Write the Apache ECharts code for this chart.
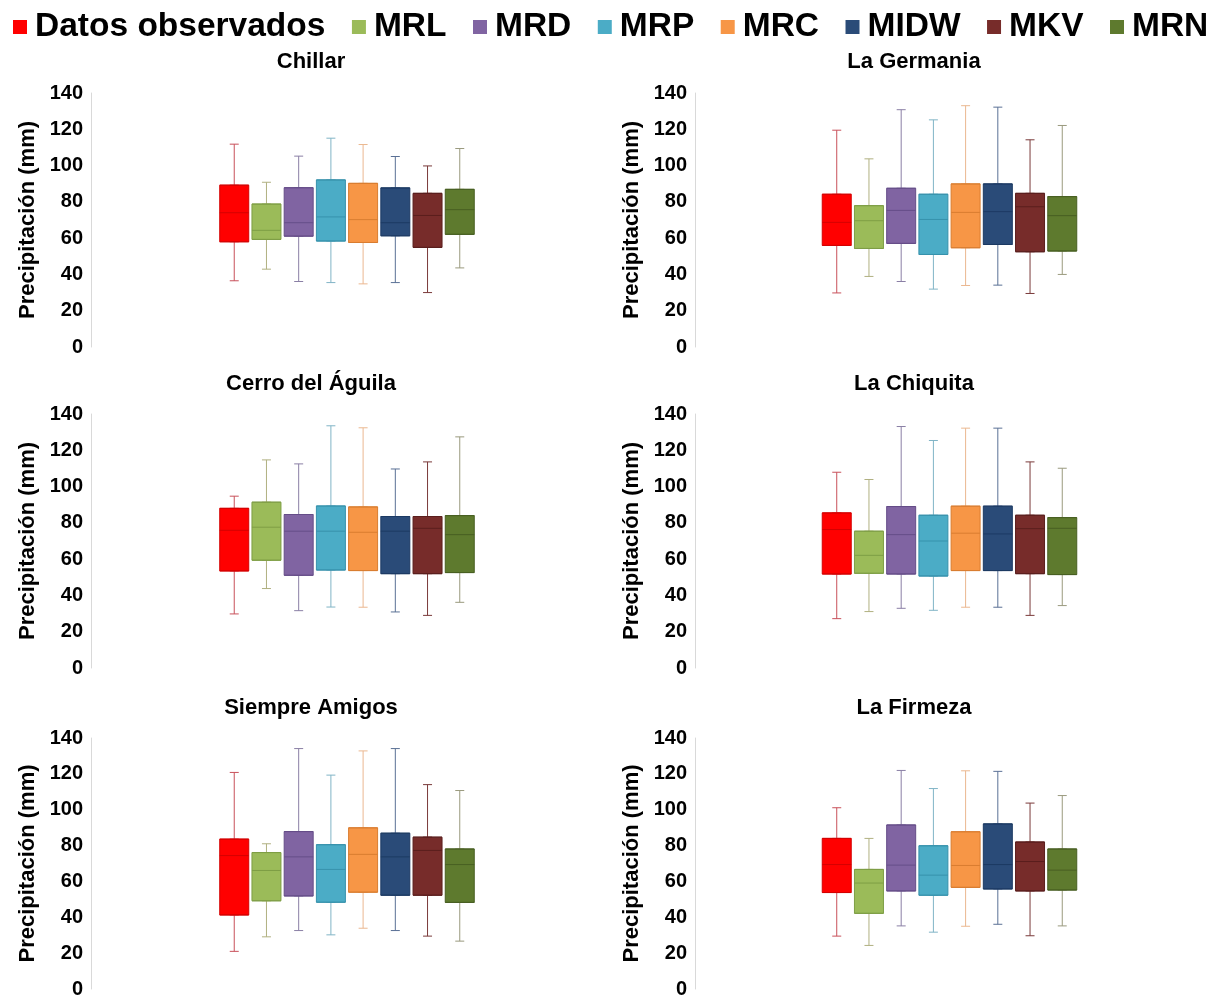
<!DOCTYPE html>
<html>
<head>
<meta charset="utf-8">
<script src="https://cdn.jsdelivr.net/npm/echarts@6/dist/echarts.min.js"></script>
<style>
html,body{margin:0;padding:0;background:#ffffff;}
#chart{width:1215px;height:999px;}
</style>
</head>
<body>
<div id="chart"></div>
<script>
// ---- data: each row is [min, Q1, median, Q3, max] (mm) ----
const models = ['Datos observados', 'MRL', 'MRD', 'MRP', 'MRC', 'MIDW', 'MKV', 'MRN'];
const stations = ['Chillar', 'La Germania', 'Cerro del Águila', 'La Chiquita', 'Siempre Amigos', 'La Firmeza'];
const yMin = 0, yMax = 140, yStep = 20;

const chillar = [
  [36.5, 58.0, 74.0, 89.2, 111.8],
  [42.9, 59.3, 64.3, 78.8, 90.8],
  [36.1, 61.1, 68.5, 87.8, 105.2],
  [35.5, 58.4, 71.7, 92.1, 115.1],
  [34.8, 57.6, 70.2, 90.2, 111.6],
  [35.5, 61.3, 68.5, 87.7, 105.0],
  [30.0, 54.9, 72.5, 84.7, 99.8],
  [43.6, 62.1, 75.7, 86.9, 109.4]
];
const laGermania = [
  [29.8, 56.0, 68.7, 84.2, 119.5],
  [38.9, 54.3, 69.6, 77.9, 103.7],
  [36.1, 57.1, 75.3, 87.5, 130.8],
  [31.9, 51.0, 70.3, 84.2, 125.2],
  [33.9, 54.7, 74.2, 89.9, 133.0],
  [34.1, 56.5, 74.6, 89.9, 132.2],
  [29.5, 52.5, 77.3, 84.7, 114.2],
  [40.0, 52.9, 72.4, 82.9, 122.1]
];
const cerroDelAguila = [
  [29.8, 53.5, 75.9, 88.0, 94.7],
  [43.8, 59.4, 77.6, 91.4, 114.7],
  [31.6, 51.1, 75.4, 84.6, 112.5],
  [33.6, 54.0, 75.4, 89.3, 133.5],
  [33.5, 53.7, 74.8, 88.8, 132.4],
  [30.9, 52.0, 75.4, 83.5, 109.7],
  [29.0, 52.0, 77.0, 83.5, 113.6],
  [36.2, 52.6, 73.5, 84.0, 127.4]
];
const laChiquita = [
  [27.2, 51.8, 76.3, 85.5, 107.9],
  [31.1, 52.2, 62.1, 75.4, 103.9],
  [32.9, 51.8, 73.5, 89.0, 133.1],
  [31.8, 50.7, 70.0, 84.2, 125.4],
  [33.5, 53.7, 74.3, 89.2, 132.2],
  [33.5, 53.7, 73.9, 89.2, 132.2],
  [29.0, 52.0, 76.8, 84.2, 113.6],
  [34.4, 51.5, 77.0, 82.9, 110.1]
];
const siempreAmigos = [
  [21.0, 41.3, 74.4, 83.6, 120.8],
  [29.1, 49.2, 66.1, 76.1, 81.0],
  [32.6, 51.9, 73.7, 87.8, 134.1],
  [30.2, 48.4, 66.7, 80.5, 119.3],
  [33.9, 54.0, 75.1, 89.9, 132.8],
  [32.6, 52.3, 73.7, 86.9, 134.1],
  [29.5, 52.3, 77.3, 84.7, 114.0],
  [26.7, 48.3, 69.4, 78.1, 110.7]
];
const laFirmeza = [
  [29.5, 53.8, 69.4, 84.0, 101.1],
  [24.3, 42.2, 59.1, 66.7, 84.0],
  [35.2, 54.7, 69.1, 91.5, 121.9],
  [31.7, 52.3, 63.5, 79.9, 111.8],
  [35.0, 56.7, 68.9, 87.7, 121.7],
  [36.1, 55.8, 69.4, 92.1, 121.4],
  [29.7, 54.7, 71.1, 82.0, 103.7],
  [35.2, 55.2, 66.3, 78.1, 107.9]
];
const stationData = [chillar, laGermania, cerroDelAguila, laChiquita, siempreAmigos, laFirmeza];

// ---- styles ----
const fillColors    = ['#FF0000', '#9BBB59', '#8064A2', '#4BACC6', '#F79646', '#2A4B78', '#772C2A', '#5E7A2E'];
const edgeColors    = ['#D40000', '#7E9E45', '#654D88', '#3792AC', '#D97D30', '#1C3A63', '#5A1E1D', '#485F22'];
const whiskerColors = ['#C8505A', '#B0B080', '#8A7FA5', '#80B4C6', '#EBB890', '#5A7095', '#7A3A3A', '#9A9A7E'];

const FONT = '"Liberation Sans", Arial, Helvetica, sans-serif';
const colLeft = [190.5, 793];
const colAxisOffset = [99.5, 98];
const rowTop = [93, 414, 738];
const gridW = 313, gridH = 254;
const titleX = [311, 914];
const titleY = [62, 384, 708];

const grids = [], xAxes = [], yAxes = [], series = [], titles = [];

stations.forEach(function (st, i) {
  const r = Math.floor(i / 2), c = i % 2;
  grids.push({ left: colLeft[c], top: rowTop[r], width: gridW, height: gridH, containLabel: false });
  xAxes.push({ type: 'category', gridIndex: i, data: [''], show: false });
  xAxes.push({ type: 'category', gridIndex: i, data: [''], show: false });
  yAxes.push({
    type: 'value', gridIndex: i, min: yMin, max: yMax, interval: yStep,
    offset: colAxisOffset[c],
    axisLine: { show: true, lineStyle: { color: '#D9D9D9', width: 1 } },
    axisTick: { show: false },
    splitLine: { show: false },
    axisLabel: { show: true, margin: 8, color: '#000', fontSize: 20, fontWeight: 'bold', fontFamily: FONT },
    name: 'Precipitación (mm)', nameLocation: 'middle', nameGap: 52,
    nameTextStyle: { color: '#000', fontSize: 22, fontWeight: 'bold', fontFamily: FONT }
  });
  titles.push({
    text: st, left: titleX[c], top: titleY[r], textAlign: 'center', textVerticalAlign: 'middle', padding: 0,
    textStyle: { color: '#000', fontSize: 22, fontWeight: 'bold', fontFamily: FONT }
  });
  const rows = stationData[i];
  models.forEach(function (m, k) {
    const v = rows[k];
    // box body (Q1..Q3 with median)
    series.push({
      type: 'boxplot', name: m, xAxisIndex: 2 * i, yAxisIndex: i,
      boxWidth: [29, 29], z: 3, silent: true, emphasis: { disabled: true },
      itemStyle: { color: fillColors[k], borderColor: edgeColors[k], borderWidth: 1 },
      data: [[v[1], v[1], v[2], v[3], v[3]]]
    });
    // whiskers with narrow caps
    series.push({
      type: 'boxplot', name: m, xAxisIndex: 2 * i + 1, yAxisIndex: i,
      boxWidth: [9, 9], z: 2, silent: true, emphasis: { disabled: true },
      itemStyle: { color: fillColors[k], borderColor: whiskerColors[k], borderWidth: 1 },
      data: [v]
    });
  });
});

const legendData = models.map(function (m, k) {
  return { name: m, itemStyle: { color: fillColors[k], borderWidth: 0 } };
});

const chart = echarts.init(document.getElementById('chart'), null, { renderer: 'canvas' });
chart.setOption({
  animation: false,
  backgroundColor: '#ffffff',
  title: titles,
  legend: {
    data: legendData, left: 13, top: 7, width: 1400, padding: 0,
    orient: 'horizontal', icon: 'rect', itemWidth: 14, itemHeight: 14, itemGap: 26.5,
    selectedMode: false,
    itemStyle: { borderWidth: 0 },
    textStyle: { color: '#000', fontSize: 33.5, fontWeight: 'bold', fontFamily: FONT, lineHeight: 40, padding: [0, 0, 0, 3] }
  },
  grid: grids,
  xAxis: xAxes,
  yAxis: yAxes,
  series: series
});
</script>
</body>
</html>
